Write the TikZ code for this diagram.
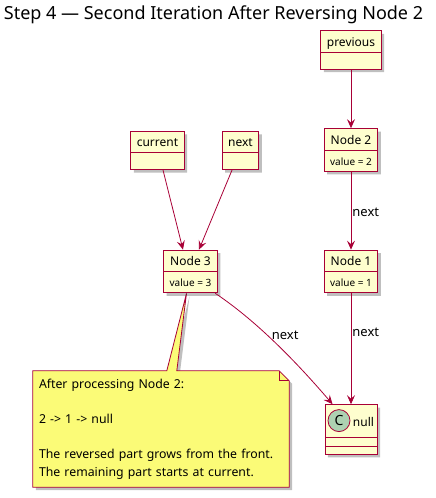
\documentclass[tikz,border=0pt]{standalone}
\usepackage{fontspec}
\setmainfont{Noto Sans}
\usetikzlibrary{shapes,arrows.meta,positioning,shadows,calc,backgrounds}

\definecolor{umlred}{HTML}{A80036}
\definecolor{umlfill}{HTML}{FEFECE}
\definecolor{notefill}{HTML}{FBFB77}
\definecolor{spotfill}{HTML}{ADD1B2}

\newcommand{\rowstrut}{\rule[-5.5pt]{0pt}{20.5pt}}
\newcommand{\val}[1]{{\fontsize{10}{12}\selectfont value = #1\rowstrut}}
\newcommand{\slot}{\rule{0pt}{7.5pt}}

\tikzset{
  umlshadow/.style={drop shadow={shadow xshift=3pt, shadow yshift=-3pt, fill=black, opacity=.25}},
  classbox/.style={rectangle split, rectangle split parts=2, draw=umlred, fill=umlfill,
    line width=0.9pt, inner xsep=6pt, inner ysep=0pt, font=\fontsize{12}{14}\selectfont,
    rectangle split empty part height=16pt, rectangle split empty part depth=0pt, umlshadow},
  nullbox/.style={classbox, rectangle split parts=3, inner xsep=3pt, minimum width=52pt},
  spot/.style={circle, draw=umlred, fill=spotfill, line width=0.8pt, minimum size=22pt,
    inner sep=0pt, font=\bfseries\fontsize{14}{14}\selectfont},
  link/.style={draw=umlred, line width=0.8pt, -{Stealth[length=9pt,width=8pt,inset=3.5pt]}},
  linklabel/.style={font=\fontsize{13}{15}\selectfont, inner xsep=1pt},
  notebody/.style={draw=umlred, fill=notefill, line width=0.8pt, umlshadow},
}

\begin{document}
\begin{tikzpicture}[x=1pt, y=-1pt]
  \useasboundingbox (0,0) rectangle (436,498);
  % title
  \node[anchor=base, font=\fontsize{18}{22}\selectfont] (title) at (213.5,19.5)
    {Step 4 — Second Iteration After Reversing Node 2};

  % pointers
  \node[classbox] (previous) at (351,50) {previous\rowstrut\nodepart{two}};
  \node[classbox] (current) at (157.5,150.5) {current\rowstrut\nodepart{two}};
  \node[classbox] (next) at (240.5,150.5) {next\rowstrut\nodepart{two}};

  % list nodes
  \node[classbox] (node2) at (351,150) {Node 2\rowstrut\nodepart{two}\val{2}};
  \node[classbox] (node3) at (190.5,271.5) {Node 3\rowstrut\nodepart{two}\val{3}};
  \node[classbox] (node1) at (351,271.5) {Node 1\rowstrut\nodepart{two}\val{1}};
  \node[nullbox] (null) at (351,429.5)
    {\hspace*{25pt}null\rule[-11pt]{0pt}{32pt}\nodepart{two}\slot\nodepart{three}\slot};
  \node[spot] (nullspot) at ([xshift=11pt,yshift=5.5pt]null.text) {C};

  % note
  \node[minimum width=256pt, minimum height=116pt, inner xsep=6pt, text width=244pt,
        align=left, font=\fontsize{12.3}{17.6}\selectfont] (note) at (161,429)
    {After processing Node 2:\\[\baselineskip]
     2 -> 1 -> null\\[\baselineskip]
     The reversed part grows from the front.\\
     The remaining part starts at current.};
  \begin{scope}[on background layer]
    \path[notebody] (note.north west) -- ($(note.north west)+(134,0)$)
      -- ([xshift=-4pt]node3.south) -- ($(note.north west)+(144,0)$)
      -- ([xshift=-10pt]note.north east) -- ([yshift=-10pt]note.north east)
      -- (note.south east) -- (note.south west) -- cycle;
  \end{scope}
  \draw[umlred, line width=0.8pt] ([xshift=-10pt]note.north east) -- ++(0,10) -- ++(10,0);

  % links
  \draw[link] (previous) -- (node2);
  \draw[link] (node2) -- node[linklabel, right, pos=0.52] {next} (node1);
  \draw[link] (node1) -- node[linklabel, right, pos=0.35] {next} (null);
  \draw[link] ([xshift=5.5pt]current.south) -- ([xshift=-7.5pt]node3.north);
  \draw[link] ([xshift=-8.5pt]next.south) -- ([xshift=8.5pt]node3.north);
  \draw[link] ([xshift=-2.5pt]node3.south east) .. controls +(45,30) and +(-30,-35)
    .. ([xshift=8pt]null.north west) node[linklabel, right, pos=0.4, inner xsep=4pt] {next};
\end{tikzpicture}
\end{document}
